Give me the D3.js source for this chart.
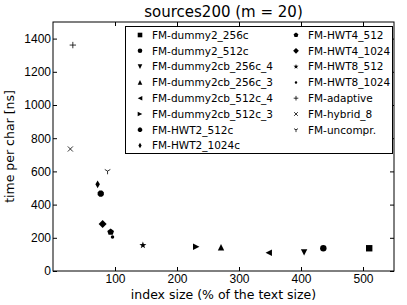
<!DOCTYPE html>
<html>
<head>
<meta charset="utf-8">
<script src="https://cdn.jsdelivr.net/npm/d3@7"></script>
<style>
  body { margin: 0; background: #fff; }
  svg { display: block; font-family: "DejaVu Sans", sans-serif; }
  .axis text { font-size: 12px; fill: #000; }
  .axis line { stroke: #000; }
  .legend text { font-size: 10.5px; fill: #000; }
</style>
</head>
<body>
<div id="chart"></div>
<script>
(function (d3) {

    // series, in legend order (column one first, then column two)
    var seriesNames = [
        'FM-dummy2_256c', 'FM-dummy2_512c', 'FM-dummy2cb_256c_4', 'FM-dummy2cb_256c_3',
        'FM-dummy2cb_512c_4', 'FM-dummy2cb_512c_3', 'FM-HWT2_512c', 'FM-HWT2_1024c',
        'FM-HWT4_512', 'FM-HWT4_1024', 'FM-HWT8_512', 'FM-HWT8_1024',
        'FM-adaptive', 'FM-hybrid_8', 'FM-uncompr.'
    ];
    var seriesMarkers = ['s', 'o', 'v', '^', '<', '>', '8', 'd', 'p', 'D', '*', '.', '+', 'x', '1'];

    // index size (% of text size)
    var indexSize = [510, 436, 405, 271, 348, 231, 77, 72, 93, 80, 145, 96, 32, 28, 88];
    // time per char [ns]
    var timePerChar = [137, 137, 112, 143, 110, 146, 466, 522, 235, 283, 155, 205, 1361, 735, 602];

    var xTicks = [100, 200, 300, 400, 500];
    var yTicks = [0, 200, 400, 600, 800, 1000, 1200, 1400];

    var W = 407, H = 305;
    var left = 53, right = 394, top = 22, bottom = 271;

    var x = d3.scaleLinear().domain([0, 550]).range([left, right]);
    var y = d3.scaleLinear().domain([0, 1500]).range([bottom, top]);

    var svg = d3.select('#chart').append('svg')
        .attr('width', W)
        .attr('height', H);

    // marker shapes, r = half size
    function markerPath(m, r) {
        var p = d3.path(), i, a;
        function poly(pts) {
            p.moveTo(pts[0][0], pts[0][1]);
            for (i = 1; i < pts.length; i++) p.lineTo(pts[i][0], pts[i][1]);
            p.closePath();
        }
        function regular(n, rad, off) {
            var pts = [];
            for (i = 0; i < n; i++) {
                a = off + i * 2 * Math.PI / n;
                pts.push([rad * Math.sin(a), -rad * Math.cos(a)]);
            }
            poly(pts);
        }
        switch (m) {
            case 's': poly([[-r, -r], [r, -r], [r, r], [-r, r]]); break;
            case 'o': p.arc(0, 0, r, 0, 2 * Math.PI); break;
            case '.': p.arc(0, 0, r * 0.55, 0, 2 * Math.PI); break;
            case 'v': poly([[0, r], [-r, -r], [r, -r]]); break;
            case '^': poly([[0, -r], [-r, r], [r, r]]); break;
            case '<': poly([[-r, 0], [r, -r], [r, r]]); break;
            case '>': poly([[r, 0], [-r, -r], [-r, r]]); break;
            case '8': regular(8, r * 1.05, Math.PI / 8); break;
            case 'p': regular(5, r * 1.1, 0); break;
            case 'D': poly([[0, -r * 1.25], [r * 1.25, 0], [0, r * 1.25], [-r * 1.25, 0]]); break;
            case 'd': poly([[0, -r * 1.2], [r * 0.7, 0], [0, r * 1.2], [-r * 0.7, 0]]); break;
            case '*':
                var pts = [];
                for (i = 0; i < 10; i++) {
                    a = i * Math.PI / 5;
                    var rr = i % 2 === 0 ? r * 1.15 : r * 0.45;
                    pts.push([rr * Math.sin(a), -rr * Math.cos(a)]);
                }
                poly(pts);
                break;
            case '+':
                p.moveTo(-r, 0); p.lineTo(r, 0);
                p.moveTo(0, -r); p.lineTo(0, r);
                break;
            case 'x':
                p.moveTo(-r * 0.8, -r * 0.8); p.lineTo(r * 0.8, r * 0.8);
                p.moveTo(-r * 0.8, r * 0.8); p.lineTo(r * 0.8, -r * 0.8);
                break;
            case '1':
                p.moveTo(0, 0); p.lineTo(0, r);
                p.moveTo(0, 0); p.lineTo(-r * 0.87, -r * 0.5);
                p.moveTo(0, 0); p.lineTo(r * 0.87, -r * 0.5);
                break;
        }
        return p.toString();
    }

    function isLine(m) {
        return m === '+' || m === 'x' || m === '1';
    }

    function styleMarker(sel) {
        sel.attr('fill', function (d) { return isLine(seriesMarkers[d]) ? 'none' : '#000'; })
            .attr('stroke', function (d) { return isLine(seriesMarkers[d]) ? '#000' : 'none'; })
            .attr('stroke-width', 0.8);
    }

    var fmt = d3.format('d');

    // axes with inward ticks on all four sides
    svg.append('g')
        .attr('class', 'axis')
        .attr('transform', 'translate(0,' + bottom + ')')
        .call(d3.axisBottom(x).tickValues(xTicks).tickFormat(fmt).tickSizeInner(-4).tickSizeOuter(0).tickPadding(3))
        .call(function (g) { g.select('.domain').remove(); });

    svg.append('g')
        .attr('class', 'axis')
        .attr('transform', 'translate(0,' + top + ')')
        .call(d3.axisTop(x).tickValues(xTicks).tickSizeInner(-4).tickSizeOuter(0).tickFormat(''))
        .call(function (g) { g.select('.domain').remove(); });

    svg.append('g')
        .attr('class', 'axis')
        .attr('transform', 'translate(' + left + ',0)')
        .call(d3.axisLeft(y).tickValues(yTicks).tickFormat(fmt).tickSizeInner(-4).tickSizeOuter(0).tickPadding(2))
        .call(function (g) { g.select('.domain').remove(); });

    svg.append('g')
        .attr('class', 'axis')
        .attr('transform', 'translate(' + right + ',0)')
        .call(d3.axisRight(y).tickValues(yTicks).tickSizeInner(-4).tickSizeOuter(0).tickFormat(''))
        .call(function (g) { g.select('.domain').remove(); });

    svg.append('rect')
        .attr('x', left)
        .attr('y', top)
        .attr('width', right - left)
        .attr('height', bottom - top)
        .attr('fill', 'none')
        .attr('stroke', '#000')
        .attr('stroke-width', 1);

    // points
    svg.append('g')
        .selectAll('path')
        .data(d3.range(seriesNames.length))
        .enter().append('path')
        .attr('transform', function (d) {
            return 'translate(' + x(indexSize[d]) + ',' + y(timePerChar[d]) + ')';
        })
        .attr('d', function (d) { return markerPath(seriesMarkers[d], 3.2); })
        .call(styleMarker);

    // legend
    var legend = svg.append('g').attr('class', 'legend');
    legend.append('rect')
        .attr('x', 125.5)
        .attr('y', 26.5)
        .attr('width', 267)
        .attr('height', 127)
        .attr('fill', '#fff')
        .attr('stroke', '#000')
        .attr('stroke-width', 1);

    var rows = legend.selectAll('g.row')
        .data(d3.range(seriesNames.length))
        .enter().append('g')
        .attr('class', 'row')
        .attr('transform', function (d) {
            var col = d < 8 ? 0 : 1, row = d < 8 ? d : d - 8;
            return 'translate(' + (col ? 296 : 140) + ',' + (35 + row * 15.8) + ')';
        });

    rows.append('path')
        .attr('d', function (d) { return markerPath(seriesMarkers[d], 2.3); })
        .call(styleMarker);

    rows.append('text')
        .attr('x', 12)
        .attr('dy', '0.36em')
        .text(function (d) { return seriesNames[d]; });

    // title and axis labels
    svg.append('text')
        .attr('x', (left + right) / 2)
        .attr('y', 17)
        .attr('text-anchor', 'middle')
        .style('font-size', '15px')
        .text('sources200 (m = 20)');

    svg.append('text')
        .attr('x', (left + right) / 2)
        .attr('y', 299)
        .attr('text-anchor', 'middle')
        .style('font-size', '12.5px')
        .text('index size (% of the text size)');

    svg.append('text')
        .attr('transform', 'translate(14,' + (top + bottom) / 2 + ') rotate(-90)')
        .attr('text-anchor', 'middle')
        .style('font-size', '12.5px')
        .text('time per char [ns]');

})(d3);
</script>
</body>
</html>
